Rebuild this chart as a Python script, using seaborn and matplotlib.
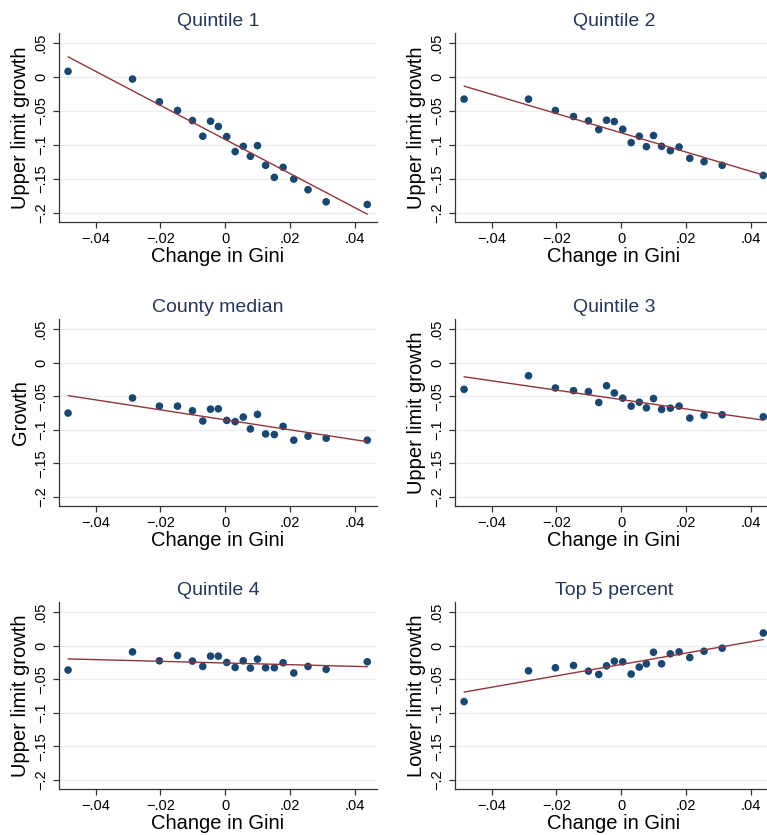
import matplotlib
matplotlib.use("Agg")
import matplotlib.pyplot as plt
import seaborn as sns
import numpy as np
import pandas as pd

# ---- data (binned scatter, 20 bins of change in Gini) ----
gini_change = [-0.0485, -0.0286, -0.0203, -0.0147, -0.0101, -0.0069, -0.0045, -0.0021,
               0.0005, 0.0031, 0.0056, 0.0078, 0.0100, 0.0125, 0.0152, 0.0179,
               0.0212, 0.0256, 0.0312, 0.0439]

quintile1 = [0.0084, -0.0030, -0.0364, -0.0492, -0.0640, -0.0871, -0.0650, -0.0728,
             -0.0876, -0.1097, -0.1019, -0.1166, -0.1009, -0.1299, -0.1476, -0.1329,
             -0.1501, -0.1658, -0.1836, -0.1875]
quintile2 = [-0.0325, -0.0325, -0.0492, -0.0581, -0.0645, -0.0773, -0.0635, -0.0655,
             -0.0768, -0.0965, -0.0871, -0.1024, -0.0861, -0.1019, -0.1083, -0.1029,
             -0.1196, -0.1245, -0.1299, -0.1447]
county_median = [-0.0751, -0.0526, -0.0648, -0.0648, -0.0717, -0.0869, -0.0693, -0.0688,
                 -0.0860, -0.0879, -0.0810, -0.0987, -0.0771, -0.1061, -0.1071, -0.0948,
                 -0.1154, -0.1095, -0.1125, -0.1154]
quintile3 = [-0.0398, -0.0196, -0.0378, -0.0417, -0.0432, -0.0594, -0.0344, -0.0452,
             -0.0530, -0.0648, -0.0589, -0.0673, -0.0535, -0.0697, -0.0678, -0.0648,
             -0.0825, -0.0786, -0.0776, -0.0806]
quintile4 = [-0.0364, -0.0094, -0.0226, -0.0148, -0.0231, -0.0310, -0.0157, -0.0157,
             -0.0251, -0.0325, -0.0226, -0.0335, -0.0202, -0.0330, -0.0330, -0.0256,
             -0.0408, -0.0310, -0.0354, -0.0241]
top5 = [-0.0833, -0.0375, -0.0330, -0.0296, -0.0380, -0.0429, -0.0301, -0.0232,
        -0.0242, -0.0424, -0.0320, -0.0271, -0.0099, -0.0271, -0.0123, -0.0094,
        -0.0178, -0.0084, -0.0039, 0.0187]

panel_titles = ["Quintile 1", "Quintile 2", "County median", "Quintile 3", "Quintile 4", "Top 5 percent"]
panel_ylabels = ["Upper limit growth", "Upper limit growth", "Growth", "Upper limit growth",
                 "Upper limit growth", "Lower limit growth"]
panel_series = [quintile1, quintile2, county_median, quintile3, quintile4, top5]
x_label = "Change in Gini"

x_ticks = [-0.04, -0.02, 0.0, 0.02, 0.04]
x_tick_labels = ["\u2212.04", "\u2212.02", "0", ".02", ".04"]
y_ticks = [0.05, 0.0, -0.05, -0.10, -0.15, -0.20]
y_tick_labels = [".05", "0", "\u2212.05", "\u2212.1", "\u2212.15", "\u2212.2"]

# ---- style ----
sns.set_theme(style="white")
plt.rcParams["font.family"] = ["Liberation Sans", "DejaVu Sans"]

navy = "#1a476f"
title_col = "#253759"
maroon = "#90353b"
grid_col = "#e6eff1"

fig = plt.figure(figsize=(7.67, 8.35), dpi=100)
W, H = 767.0, 835.0
col_left = [59, 455]
ax_w = 318
rows = [(33, 222), (319, 506), (602, 789)]

for i, (title, ylab, ys) in enumerate(zip(panel_titles, panel_ylabels, panel_series)):
    r, c = divmod(i, 2)
    top, bot = rows[r]
    ax = fig.add_axes([col_left[c] / W, 1 - bot / H, ax_w / W, (bot - top) / H])
    df = pd.DataFrame({"x": gini_change, "y": ys})
    sns.regplot(data=df, x="x", y="y", ax=ax, ci=None,
                scatter_kws=dict(s=30, color=navy, edgecolor="none", alpha=1, zorder=3),
                line_kws=dict(color=maroon, lw=1.0, zorder=4))
    ax.set_xlim(-0.0513, 0.0469)
    ax.set_ylim(-0.2133, 0.0648)
    ax.set_yticks(y_ticks)
    ax.set_yticklabels(y_tick_labels, rotation=90, va="center", fontsize=10.5)
    ax.set_xticks(x_ticks)
    ax.set_xticklabels(x_tick_labels, fontsize=10.5)
    for yt in y_ticks:
        ax.axhline(yt, color=grid_col, lw=1.0, zorder=1)
    ax.set_title(title, fontsize=14, color=title_col, pad=5)
    ax.set_xlabel(x_label, fontsize=14.5, labelpad=1, color="black")
    ax.set_ylabel(ylab, fontsize=14.5, labelpad=3, color="black")
    for s in ["top", "right"]:
        ax.spines[s].set_visible(False)
    for s in ["left", "bottom"]:
        ax.spines[s].set_color("#333333")
        ax.spines[s].set_linewidth(0.9)
    ax.tick_params(axis="both", which="major", direction="out", length=4, width=0.9,
                   color="#333333", labelcolor="black", bottom=True, left=True)
    ax.tick_params(axis="y", pad=4)
    ax.tick_params(axis="x", pad=3)
    ax.set_facecolor("white")

fig.savefig("out.png", dpi=100, facecolor="white")
